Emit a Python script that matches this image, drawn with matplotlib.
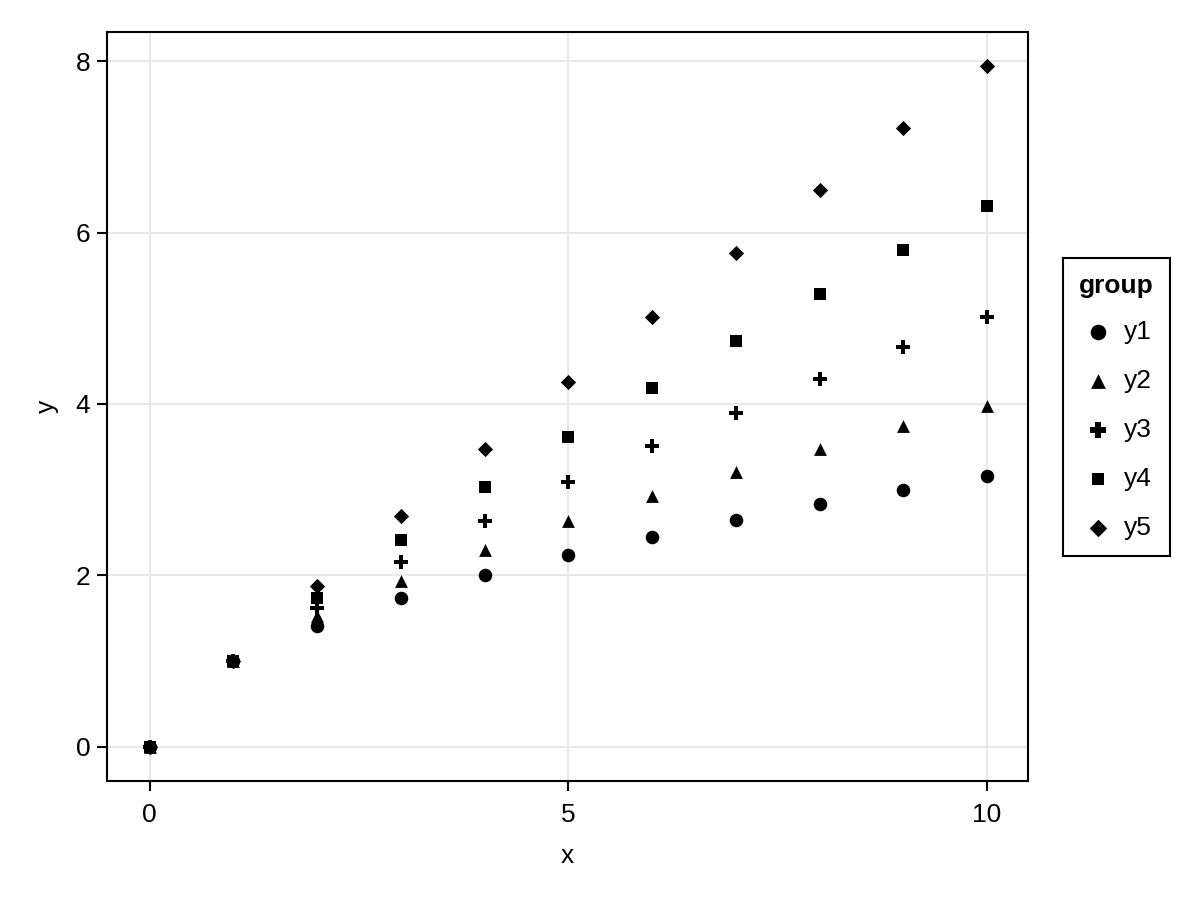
import matplotlib
matplotlib.use("Agg")
import matplotlib.pyplot as plt

plt.rcParams['font.family'] = ['Liberation Sans', 'DejaVu Sans']

# values
x = [0, 1, 2, 3, 4, 5, 6, 7, 8, 9, 10]
y1 = [0, 1, 1.41, 1.73, 2.00, 2.24, 2.45, 2.65, 2.83, 3.00, 3.16]
y2 = [0, 1, 1.52, 1.93, 2.30, 2.63, 2.93, 3.21, 3.48, 3.74, 3.98]
y3 = [0, 1, 1.62, 2.16, 2.64, 3.09, 3.51, 3.90, 4.29, 4.66, 5.01]
y4 = [0, 1, 1.74, 2.41, 3.03, 3.62, 4.19, 4.74, 5.28, 5.80, 6.31]
y5 = [0, 1, 1.87, 2.69, 3.48, 4.26, 5.02, 5.76, 6.50, 7.22, 7.94]
names = ['y1', 'y2', 'y3', 'y4', 'y5']
markers = ['o', '^', 'P', 's', 'D']
sizes = [95, 85, 95, 65, 60]

fig = plt.figure(figsize=(12, 9), dpi=100)
ax = fig.add_axes([0.0892, 0.1322, 0.7675, 0.8322])

for ys, name, m, s in zip([y1, y2, y3, y4, y5], names, markers, sizes):
    ax.scatter(x, ys, marker=m, s=s, color='black', linewidths=0, label=name, zorder=3)

ax.set_xlim(-0.51, 10.49)
ax.set_ylim(-0.40, 8.34)
ax.set_xticks([0, 5, 10])
ax.set_yticks([0, 2, 4, 6, 8])
ax.grid(True, color='#e8e8e8', linewidth=1.5, zorder=0)
ax.set_axisbelow(True)
for sp in ax.spines.values():
    sp.set_linewidth(1.5)
ax.tick_params(labelsize=19, length=7, width=1.5, pad=5)
ax.tick_params(axis='x', pad=9)
ax.set_xlabel('x', fontsize=19, labelpad=12)
ax.set_ylabel('y', fontsize=19, labelpad=12)

leg = ax.legend(title='group', loc='center left', bbox_to_anchor=(0.886, 0.548),
                bbox_transform=fig.transFigure, borderaxespad=0, fontsize=19,
                title_fontproperties={'weight': 'bold', 'size': 19},
                fancybox=False, edgecolor='black', framealpha=1,
                handletextpad=0.3, labelspacing=0.95, borderpad=0.6,
                handlelength=1.3, markerscale=1.15)
leg.get_frame().set_linewidth(1.5)
leg._legend_box.sep = 16

fig.savefig('out.png', dpi=100)
